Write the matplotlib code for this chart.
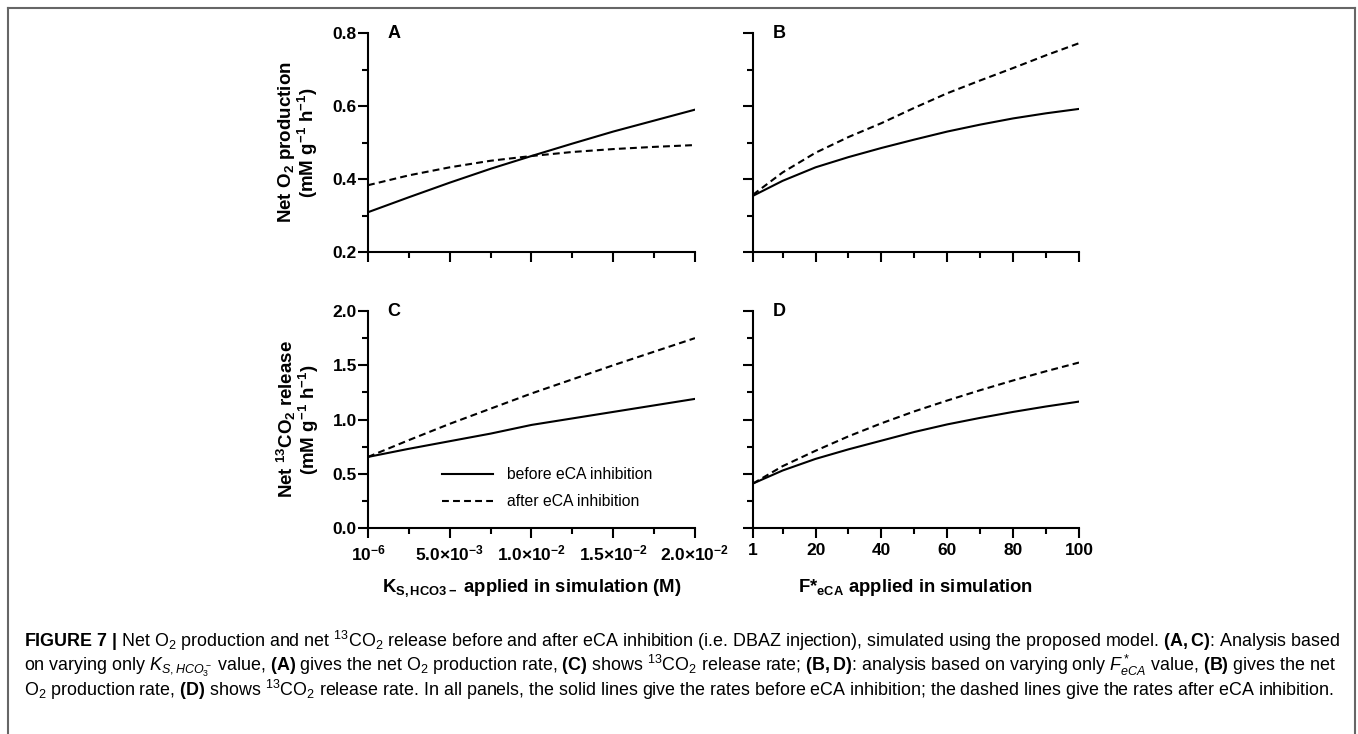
import matplotlib
matplotlib.use("Agg")
import matplotlib.pyplot as plt
from matplotlib.lines import Line2D
from matplotlib.ticker import FixedLocator, FixedFormatter

plt.rcParams['font.family'] = ['Liberation Sans', 'DejaVu Sans']
plt.rcParams['mathtext.fontset'] = 'custom'
plt.rcParams['mathtext.rm'] = 'Liberation Sans'
plt.rcParams['mathtext.it'] = 'Liberation Sans:italic'
plt.rcParams['mathtext.bf'] = 'Liberation Sans:bold'

# K_S,HCO3- values (M) used in panels A and C
ks = [1e-6, 0.25e-2, 0.5e-2, 0.75e-2, 1.0e-2, 1.25e-2, 1.5e-2, 1.75e-2, 2.0e-2]
a_before = [0.309, 0.350, 0.390, 0.428, 0.463, 0.497, 0.530, 0.560, 0.590]
a_after = [0.383, 0.410, 0.432, 0.450, 0.463, 0.474, 0.482, 0.488, 0.493]
c_before = [0.655, 0.730, 0.800, 0.870, 0.950, 1.010, 1.070, 1.130, 1.190]
c_after = [0.655, 0.810, 0.960, 1.100, 1.240, 1.370, 1.500, 1.625, 1.750]

# F*eCA values used in panels B and D
fe = [1, 10, 20, 30, 40, 50, 60, 70, 80, 90, 100]
b_before = [0.354, 0.395, 0.432, 0.460, 0.485, 0.508, 0.530, 0.549, 0.566, 0.580, 0.592]
b_after = [0.357, 0.418, 0.472, 0.515, 0.553, 0.595, 0.635, 0.670, 0.704, 0.739, 0.772]
d_before = [0.410, 0.530, 0.637, 0.725, 0.805, 0.885, 0.955, 1.015, 1.070, 1.120, 1.165]
d_after = [0.410, 0.570, 0.712, 0.845, 0.965, 1.075, 1.175, 1.270, 1.360, 1.445, 1.525]

ks_ticks = [1e-6, 5e-3, 1e-2, 1.5e-2, 2e-2]
ks_minor = [2.5e-3, 7.5e-3, 1.25e-2, 1.75e-2]
ks_labels = [r'$\mathdefault{10^{-6}}$', r'$\mathdefault{5.0{\times}10^{-3}}$',
             r'$\mathdefault{1.0{\times}10^{-2}}$', r'$\mathdefault{1.5{\times}10^{-2}}$',
             r'$\mathdefault{2.0{\times}10^{-2}}$']
fe_ticks = [1, 20, 40, 60, 80, 100]
fe_minor = [10, 30, 50, 70, 90]
o2_ticks = [0.2, 0.4, 0.6, 0.8]
o2_minor = [0.3, 0.5, 0.7]
o2_labels = ['0.2', '0.4', '0.6', '0.8']
co2_ticks = [0.0, 0.5, 1.0, 1.5, 2.0]
co2_minor = [0.25, 0.75, 1.25, 1.75]
co2_labels = ['0.0', '0.5', '1.0', '1.5', '2.0']

W, H = 1358, 734
fig = plt.figure(figsize=(W / 100, H / 100), dpi=100)


def box(x0, x1, ytop, ybot):
    return [x0 / W, 1 - ybot / H, (x1 - x0) / W, (ybot - ytop) / H]


axA = fig.add_axes(box(368, 695, 33, 252))
axB = fig.add_axes(box(753, 1079, 33, 252))
axC = fig.add_axes(box(368, 695, 311, 528))
axD = fig.add_axes(box(753, 1079, 311, 528))

lw = 1.5
for ax in (axA, axB, axC, axD):
    for s in ('top', 'right'):
        ax.spines[s].set_visible(False)
    for s in ('left', 'bottom'):
        ax.spines[s].set_linewidth(lw)
    ax.tick_params(which='major', length=7, width=lw, direction='out', pad=1,
                   labelsize=12.5)
    ax.tick_params(which='minor', length=4, width=lw, direction='out')

# panels A, C
for ax, yb, ya in ((axA, a_before, a_after), (axC, c_before, c_after)):
    ax.plot(ks, yb, color='black', lw=lw, label='before eCA inhibition')
    ax.plot(ks, ya, color='black', lw=lw, dashes=(3.3, 2), label='after eCA inhibition')
    ax.set_xlim(1e-6, 2e-2)
    ax.xaxis.set_major_locator(FixedLocator(ks_ticks))
    ax.xaxis.set_minor_locator(FixedLocator(ks_minor))
    ax.xaxis.set_major_formatter(FixedFormatter(ks_labels))

# panels B, D
for ax, yb, ya in ((axB, b_before, b_after), (axD, d_before, d_after)):
    ax.plot(fe, yb, color='black', lw=lw)
    ax.plot(fe, ya, color='black', lw=lw, dashes=(3.3, 2))
    ax.set_xlim(1, 100)
    ax.xaxis.set_major_locator(FixedLocator(fe_ticks))
    ax.xaxis.set_minor_locator(FixedLocator(fe_minor))
    ax.xaxis.set_major_formatter(FixedFormatter([str(v) for v in fe_ticks]))

for ax in (axA, axB):
    ax.set_ylim(0.2, 0.8)
    ax.yaxis.set_major_locator(FixedLocator(o2_ticks))
    ax.yaxis.set_minor_locator(FixedLocator(o2_minor))
    ax.yaxis.set_major_formatter(FixedFormatter(o2_labels))
for ax in (axC, axD):
    ax.set_ylim(0.0, 2.0)
    ax.yaxis.set_major_locator(FixedLocator(co2_ticks))
    ax.yaxis.set_minor_locator(FixedLocator(co2_minor))
    ax.yaxis.set_major_formatter(FixedFormatter(co2_labels))

axA.tick_params(labelbottom=False)
axB.tick_params(labelbottom=False, labelleft=False)
axD.tick_params(labelleft=False)
axC.tick_params(axis='x', pad=4)
axD.tick_params(axis='x', pad=4)
fig.canvas.draw()
for ax in (axA, axB, axC, axD):
    for lab in ax.get_xticklabels() + ax.get_yticklabels():
        lab.set_fontweight('bold')

for ax, letter in ((axA, 'A'), (axB, 'B'), (axC, 'C'), (axD, 'D')):
    ax.text(0.06, 1.0, letter, transform=ax.transAxes, fontsize=13,
            fontweight='bold', ha='left', va='center')

# y labels
unit = r'(mM g$^{\mathdefault{-1}}$ h$^{\mathdefault{-1}}$)'
for ax, l1 in ((axA, r'Net O$_{\mathdefault{2}}$ production'),
               (axC, r'Net $^{\mathdefault{13}}$CO$_{\mathdefault{2}}$ release')):
    ax.text(-0.215, 0.5, l1 + '\n' + unit, transform=ax.transAxes, rotation=90,
            fontsize=13.5, fontweight='bold', ha='center', va='center',
            linespacing=0.95, multialignment='center')

axC.text(0.5, -0.275, r'K$_{\mathdefault{S,HCO3-}}$ applied in simulation (M)',
         transform=axC.transAxes, fontsize=13.3, fontweight='bold', ha='center', va='center')
axD.text(0.5, -0.275, r'F*$_{\mathdefault{eCA}}$ applied in simulation',
         transform=axD.transAxes, fontsize=13.3, fontweight='bold', ha='center', va='center')

axC.legend(loc='upper left', bbox_to_anchor=(0.225, 0.28), frameon=False,
           prop={'family': 'Liberation Sans', 'size': 11.3},
           handlelength=3.25, handletextpad=0.95, labelspacing=0.75,
           borderpad=0, borderaxespad=0)

# frame around figure
for xs, ys in (([8, 1355], [8, 8]), ([8, 8], [8, 734]), ([1355, 1355], [8, 734])):
    fig.add_artist(Line2D([x / W for x in xs], [1 - y / H for y in ys],
                          color='#666666', lw=1.5))

cap = [
    r"$\bf{FIGURE\ 7\ |}$ Net O$_2$ production and net $^{13}$CO$_2$ release before and after eCA inhibition (i.e. DBAZ injection), simulated using the proposed model. $\bf{(A,C)}$: Analysis based",
    r"on varying only $K_{S,HCO_3^-}$ value, $\bf{(A)}$ gives the net O$_2$ production rate, $\bf{(C)}$ shows $^{13}$CO$_2$ release rate; $\bf{(B,D)}$: analysis based on varying only $F^*_{eCA}$ value, $\bf{(B)}$ gives the net",
    r"O$_2$ production rate, $\bf{(D)}$ shows $^{13}$CO$_2$ release rate. In all panels, the solid lines give the rates before eCA inhibition; the dashed lines give the rates after eCA inhibition.",
]
for i, line in enumerate(cap):
    fig.text(24 / W, 1 - (641 + 24.5 * i) / H, line, fontsize=12.9,
             ha='left', va='center')

fig.savefig('out.png', dpi=100)
